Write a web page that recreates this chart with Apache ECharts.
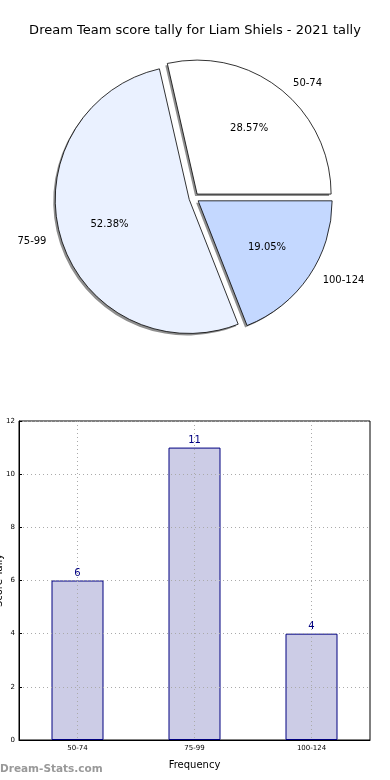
<!DOCTYPE html>
<html>
<head>
<meta charset="utf-8">
<script src="https://cdn.jsdelivr.net/npm/echarts@6/dist/echarts.min.js"></script>
<style>
html,body{margin:0;padding:0;background:#fff;}
#c{width:390px;height:780px;}
</style>
</head>
<body>
<div id="c"></div>
<script>
var categories = ['50-74', '75-99', '100-124'];
var counts = [6, 11, 4];
var sliceColors = ['#ffffff', '#eaf1ff', '#c4d8ff'];
var yTicks = [0, 2, 4, 6, 8, 10, 12];
var titleText = 'Dream Team score tally for Liam Shiels - 2021 tally';

var FONT = 'DejaVu Sans';
var pieCenter = [194, 198];
var R = 134;

var pieData = categories.map(function (c, i) {
  return { name: c, value: counts[i], selected: true, itemStyle: { color: sliceColors[i] } };
});
var pieShadowData = categories.map(function (c, i) {
  return { name: c, value: counts[i], selected: true };
});
var pieLabelData = categories.map(function (c, i) {
  return { name: c, value: counts[i], selected: true };
});

var chart = echarts.init(document.getElementById('c'), null, { renderer: 'canvas' });
chart.setOption({
  animation: false,
  backgroundColor: '#fff',
  title: [{
    text: titleText,
    left: 'center',
    top: 19,
    textStyle: { fontFamily: FONT, fontSize: 13, fontWeight: 'normal', color: '#000' }
  }, {
    text: 'Dream-Stats.com',
    left: 0,
    top: 764,
    padding: 0,
    textStyle: { fontFamily: FONT, fontSize: 10.5, fontWeight: 'bold', color: '#999999' }
  }],
  grid: {
    left: 19, right: 20, top: 421, bottom: 40,
    containLabel: false,
    outerBoundsMode: 'none',
    show: true, borderColor: '#000', borderWidth: 1, backgroundColor: 'transparent'
  },
  xAxis: {
    type: 'category',
    data: categories,
    z: 3,
    name: 'Frequency',
    nameLocation: 'middle',
    nameGap: 20,
    nameMoveOverlap: false,
    nameTextStyle: { fontFamily: FONT, fontSize: 10, color: '#000' },
    axisLine: { show: true, lineStyle: { color: '#000', width: 1 } },
    axisTick: { show: false, alignWithLabel: true },
    axisLabel: { fontFamily: FONT, fontSize: 7, color: '#000', margin: 5 },
    splitLine: { show: true, alignWithLabel: true, lineStyle: { type: [1, 3], color: '#aaaaaa', width: 1 } }
  },
  yAxis: {
    type: 'value',
    min: 0, max: 12, interval: 2,
    z: 3,
    name: 'Score Tally',
    nameLocation: 'middle',
    nameGap: 15,
    nameMoveOverlap: false,
    nameTextStyle: { fontFamily: FONT, fontSize: 10, color: '#000' },
    axisLine: { show: true, lineStyle: { color: '#000', width: 1 } },
    axisTick: { show: true, inside: true, length: 3, lineStyle: { color: '#000' } },
    axisLabel: {
      fontFamily: FONT, fontSize: 7, color: '#000', margin: 4,
      formatter: function (v) { return yTicks.indexOf(v) >= 0 ? String(v) : ''; }
    },
    splitLine: { show: true, lineStyle: { type: [1, 3], color: '#aaaaaa', width: 1 } }
  },
  series: [{
    type: 'pie',
    z: 1,
    center: [pieCenter[0] - 2, pieCenter[1] + 2],
    radius: [0, R],
    startAngle: 0,
    clockwise: false,
    selectedMode: 'multiple',
    selectedOffset: 5,
    avoidLabelOverlap: false,
    silent: true,
    data: pieShadowData,
    itemStyle: { color: '#8f8f8f', borderWidth: 0 },
    label: { show: false },
    labelLine: { show: false },
    emphasis: { disabled: true }
  }, {
    type: 'pie',
    z: 2,
    center: pieCenter,
    radius: [0, R],
    startAngle: 0,
    clockwise: false,
    selectedMode: 'multiple',
    selectedOffset: 5,
    avoidLabelOverlap: false,
    silent: true,
    data: pieData,
    itemStyle: { borderColor: '#000', borderWidth: 0.8 },
    label: {
      show: true, position: 'outside', formatter: '{b}',
      fontFamily: FONT, fontSize: 10, color: '#000', distanceToLabelLine: 5
    },
    labelLine: { show: false, length: 7, length2: 3 },
    emphasis: { disabled: true }
  }, {
    type: 'pie',
    z: 3,
    center: pieCenter,
    radius: [R * 0.2, R],
    startAngle: 0,
    clockwise: false,
    selectedMode: 'multiple',
    selectedOffset: 5,
    avoidLabelOverlap: false,
    silent: true,
    data: pieLabelData,
    itemStyle: { color: 'rgba(0,0,0,0)', borderWidth: 0 },
    label: {
      show: true, position: 'inside', formatter: '{d}%',
      fontFamily: FONT, fontSize: 10, color: '#000'
    },
    labelLine: { show: false },
    emphasis: { disabled: true }
  }, {
    type: 'bar',
    data: counts,
    barWidth: 52,
    itemStyle: { color: '#cccce6', borderColor: '#000080', borderWidth: 1 },
    label: {
      show: true, position: 'top', distance: 2,
      fontFamily: FONT, fontSize: 10, color: '#000080'
    },
    emphasis: { disabled: true }
  }]
});
</script>
</body>
</html>
